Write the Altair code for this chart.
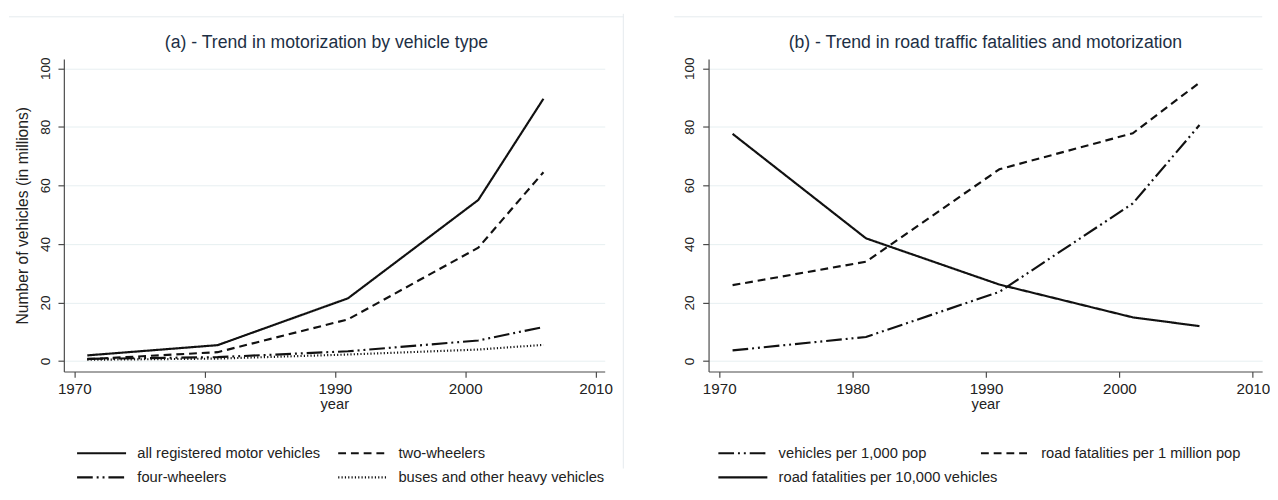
import altair as alt
import pandas as pd

# ---------------- data ----------------
years = [1971, 1981, 1991, 2001, 2006]

# panel (a): number of vehicles, millions
all_registered = [1.9, 5.4, 21.4, 55.0, 89.6]
two_wheelers = [0.6, 3.0, 14.2, 38.7, 64.5]
four_wheelers = [0.7, 1.3, 3.3, 7.0, 11.6]
buses_heavy = [0.4, 0.8, 2.2, 3.9, 5.5]
series_a = ["all registered motor vehicles", "two-wheelers",
            "four-wheelers", "buses and other heavy vehicles"]

# panel (b)
veh_per_1000 = [3.6, 8.2, 23.6, 53.8, 80.6]
fatal_per_million = [25.9, 33.9, 65.5, 77.8, 95.1]
fatal_per_10k = [77.6, 41.9, 26.1, 14.9, 11.9]
series_b = ["vehicles per 1,000 pop", "road fatalities per 1 million pop",
            "road fatalities per 10,000 vehicles"]

x_ticks = [1970, 1980, 1990, 2000, 2010]
y_ticks = [0, 20, 40, 60, 80, 100]

title_a = "(a) - Trend in motorization by vehicle type"
title_b = "(b) - Trend in road traffic fatalities and motorization"
ytitle_a = "Number of vehicles (in millions)"


def long_df(names, cols):
    rows = []
    for name, vals in zip(names, cols):
        for yr, v in zip(years, vals):
            rows.append({"year": yr, "value": v, "series": name})
    return pd.DataFrame(rows)


df_a = long_df(series_a, [all_registered, two_wheelers, four_wheelers, buses_heavy])
df_b = long_df(series_b, [veh_per_1000, fatal_per_million, fatal_per_10k])

FONT = "Liberation Sans, Arial, sans-serif"
INK = "#111111"
FRAME = "#e4ebee"

SOLID = [1, 0]
DASH = [8, 5]
DASHDOT = [16, 4, 2, 4, 2, 4]
DOT = [1.2, 2.2]

H = 319
W_A = 552
W_B = 565


def panel(df, order, dashes, widths, title, ytitle, W, legend_x, col_pad, t_offset, t_dx):
    x = alt.X("year:Q",
              scale=alt.Scale(domain=[1969.2, 2010.7], nice=False, zero=False),
              axis=alt.Axis(values=x_ticks, format="d", title="year", grid=False,
                            labelFont=FONT, labelFontSize=15.5, labelPadding=4,
                            titleFont=FONT, titleFontSize=15, titleFontWeight="normal",
                            titlePadding=0, labelFlush=False))
    y = alt.Y("value:Q",
              scale=alt.Scale(domain=[-3.6, 103.2], nice=False, zero=False),
              axis=alt.Axis(values=y_ticks, title=ytitle, grid=True,
                            labelAngle=270, labelAlign="center", labelBaseline="bottom",
                            labelFont=FONT, labelFontSize=13.8, labelPadding=6,
                            titleFont=FONT, titleFontSize=16, titleFontWeight="normal",
                            titlePadding=8))
    lines = alt.Chart(df).mark_line(color=INK, strokeCap="butt").encode(
        x=x, y=y,
        strokeDash=alt.StrokeDash(
            "series:N",
            scale=alt.Scale(domain=order, range=dashes),
            legend=alt.Legend(title=None, orient="none", legendX=legend_x, legendY=394.7,
                              columns=2, direction="horizontal", gridAlign="each",
                              columnPadding=col_pad, rowPadding=8.8, padding=0,
                              symbolType="M-5,0H5", symbolSize=100, symbolStrokeWidth=2,
                              symbolStrokeColor=INK, symbolFillColor="transparent",
                              labelFont=FONT, labelFontSize=15, labelColor="#222222",
                              labelOffset=29, labelLimit=400)),
        strokeWidth=alt.StrokeWidth("series:N",
                                    scale=alt.Scale(domain=order, range=widths),
                                    legend=None),
    )
    return lines.properties(
        width=W, height=H,
        title=alt.TitleParams(title, font=FONT, fontSize=18, fontWeight="normal",
                              color="#1d2f45", anchor="middle", frame="group",
                              offset=t_offset, dx=t_dx),
    )


frame_df = pd.DataFrame({"k": [0]})

left = panel(df_a, series_a, [SOLID, DASH, DASHDOT, DOT], [2.2, 2.2, 2.2, 1.6],
             title_a, ytitle_a, W_A, 31, 13.5, -39, -8)
left_div = alt.Chart(frame_df).mark_rule(color=FRAME, strokeWidth=1).encode(
    x=alt.value(W_A + 19), y=alt.value(-46), y2=alt.value(418))
left_top = alt.Chart(frame_df).mark_rule(color=FRAME, strokeWidth=1).encode(
    x=alt.value(-56), x2=alt.value(W_A + 19), y=alt.value(-43))
left = alt.layer(left, left_div, left_top)

right = panel(df_b, series_b, [DASHDOT, DASH, SOLID], [2.2, 2.2, 2.2],
              title_b, None, W_B, 27.5, -61.7, -36, 0)
right_top = alt.Chart(frame_df).mark_rule(color=FRAME, strokeWidth=1).encode(
    x=alt.value(-35), x2=alt.value(W_B), y=alt.value(-43))
right = alt.layer(right, right_top)

chart = alt.hconcat(left, right, spacing=50).resolve_scale(
    strokeDash="independent", strokeWidth="independent"
).resolve_legend(strokeDash="independent").properties(
    padding={"left": 0, "top": 0, "right": 0, "bottom": 0}
).configure_view(stroke=None).configure_axis(
    domainColor="#4a4a4a", tickColor="#4a4a4a", domainWidth=1.2, tickWidth=1.2,
    tickSize=6, gridColor="#e6eff1", gridWidth=1, labelColor="#222222",
    titleColor="#222222",
)

chart.save("out.html", embed_options={"renderer": "svg", "actions": False})
